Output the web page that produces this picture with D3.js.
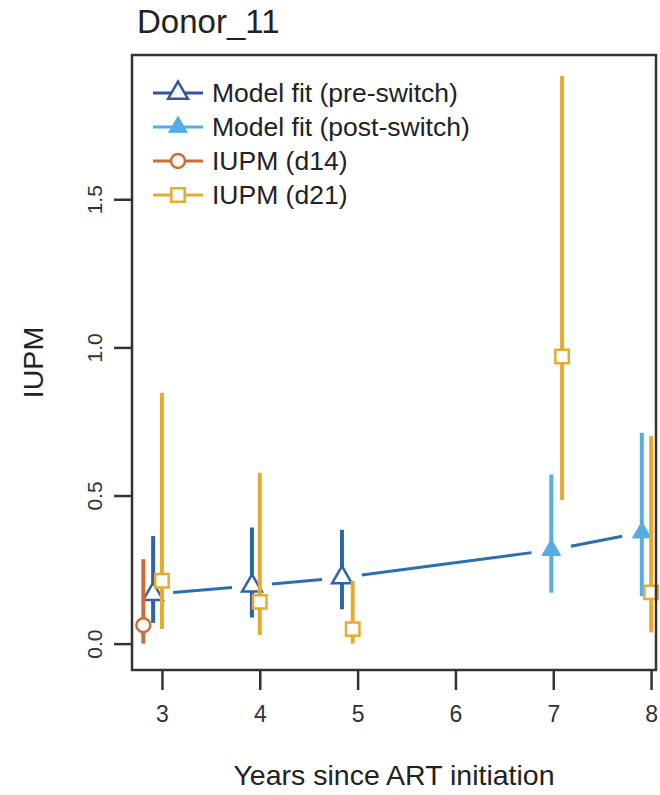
<!DOCTYPE html>
<html>
<head>
<meta charset="utf-8">
<script src="https://cdn.jsdelivr.net/npm/d3@7"></script>
<style>
  body { margin: 0; background: #fff; }
  svg { font-family: "Liberation Sans", Arial, sans-serif; }
</style>
</head>
<body>
<div id="chart"></div>
<script>
// values
var preYears = [2.91, 3.92, 4.84];
var preFit = [0.167, 0.195, 0.223];
var preLo = [0.07, 0.088, 0.116];
var preHi = [0.363, 0.392, 0.384];

var postYears = [6.98, 7.905];
var postFit = [0.316, 0.375];
var postLo = [0.172, 0.161];
var postHi = [0.571, 0.712];

var d14Years = [2.81];
var d14Iupm = [0.062];
var d14Lo = [0.0];
var d14Hi = [0.285];

var d21Years = [3.0, 4.0, 4.95, 7.09, 8.0];
var d21Iupm = [0.212, 0.141, 0.049, 0.969, 0.173];
var d21Lo = [0.049, 0.029, 0.0, 0.485, 0.038];
var d21Hi = [0.847, 0.577, 0.212, 1.916, 0.70];

var xTicks = [3, 4, 5, 6, 7, 8];
var yTicks = [0, 0.5, 1.0, 1.5];
var legendLabels = ['Model fit (pre-switch)', 'Model fit (post-switch)', 'IUPM (d14)', 'IUPM (d21)'];

var colPre = '#2d64a9', colPost = '#56ade2', colD14 = '#cc6d35', colD21 = '#e8aa2c', colLine = '#2a70b0';

var W = 660, H = 795;
var box = {left: 132, right: 656, top: 55, bottom: 670};

var svg = d3.select('#chart').append('svg')
    .attr('width', W)
    .attr('height', H);

var x = d3.scaleLinear().domain([2.694, 8.05]).range([box.left, box.right]);
var y = d3.scaleLinear().domain([-0.089, 1.987]).range([box.bottom, box.top]);

function zip(xs, ys, lo, hi) {
    return xs.map(function(d, i) { return {x: d, y: ys[i], lo: lo[i], hi: hi[i]}; });
}
var pre = zip(preYears, preFit, preLo, preHi);
var post = zip(postYears, postFit, postLo, postHi);
var d14 = zip(d14Years, d14Iupm, d14Lo, d14Hi);
var d21 = zip(d21Years, d21Iupm, d21Lo, d21Hi);

// axes
var xAxis = svg.append('g')
    .attr('transform', 'translate(0,' + box.bottom + ')')
    .call(d3.axisBottom(x).tickValues(xTicks).tickSize(20).tickPadding(16).tickFormat(d3.format('d')));
var yAxis = svg.append('g')
    .attr('transform', 'translate(' + box.left + ',0)')
    .call(d3.axisLeft(y).tickValues(yTicks).tickSize(18).tickFormat(d3.format('.1f')));

[xAxis, yAxis].forEach(function(a) {
    a.select('.domain').remove();
    a.selectAll('line').attr('stroke', '#333').attr('stroke-width', 2.5);
    a.selectAll('text').attr('fill', '#333');
});
xAxis.selectAll('text').style('font-size', '23px');
yAxis.selectAll('text')
    .style('font-size', '21px')
    .attr('x', 0)
    .attr('dy', '0.35em')
    .attr('text-anchor', 'middle')
    .attr('transform', 'translate(-37,0) rotate(-90)');

// error bars
function bars(data, color) {
    svg.append('g').selectAll('line')
        .data(data)
        .enter().append('line')
        .attr('x1', function(d) { return x(d.x); })
        .attr('x2', function(d) { return x(d.x); })
        .attr('y1', function(d) { return y(d.lo); })
        .attr('y2', function(d) { return y(d.hi); })
        .attr('stroke', color)
        .attr('stroke-width', 4);
}

// model line with gaps round the points (type = "b")
var model = pre.concat(post);
var gap = 20;
var segs = [];
for (var k = 0; k < model.length - 1; k++) {
    var ax = x(model[k].x), ay = y(model[k].y), bx = x(model[k + 1].x), by = y(model[k + 1].y);
    var len = Math.hypot(bx - ax, by - ay);
    var ux = (bx - ax) / len, uy = (by - ay) / len;
    segs.push([ax + ux * gap, ay + uy * gap, bx - ux * gap, by - uy * gap]);
}
svg.append('g').selectAll('line')
    .data(segs)
    .enter().append('line')
    .attr('x1', function(d) { return d[0]; })
    .attr('y1', function(d) { return d[1]; })
    .attr('x2', function(d) { return d[2]; })
    .attr('y2', function(d) { return d[3]; })
    .attr('stroke', colLine)
    .attr('stroke-width', 3);

var triOpen = d3.symbol().type(d3.symbolTriangle).size(170);
var triFull = d3.symbol().type(d3.symbolTriangle).size(150);
var square = d3.symbol().type(d3.symbolSquare).size(180);

function points(data, path, stroke, fill, sw) {
    svg.append('g').selectAll('path')
        .data(data)
        .enter().append('path')
        .attr('d', path)
        .attr('transform', function(d) { return 'translate(' + x(d.x) + ',' + y(d.y) + ')'; })
        .attr('fill', fill)
        .attr('stroke', stroke)
        .attr('stroke-width', sw);
}

bars(pre, colPre);
points(pre, triOpen(), colPre, '#fff', 2.5);
bars(post, colPost);
points(post, triFull(), colPost, colPost, 1);

bars(d14, colD14);
svg.append('g').selectAll('circle')
    .data(d14)
    .enter().append('circle')
    .attr('cx', function(d) { return x(d.x); })
    .attr('cy', function(d) { return y(d.y); })
    .attr('r', 7)
    .attr('fill', '#fff')
    .attr('stroke', colD14)
    .attr('stroke-width', 2.5);

bars(d21, colD21);
points(d21, square(), colD21, '#fff', 2.5);

// box
svg.append('rect')
    .attr('x', box.left)
    .attr('y', box.top)
    .attr('width', box.right - box.left)
    .attr('height', box.bottom - box.top)
    .attr('fill', 'none')
    .attr('stroke', '#333')
    .attr('stroke-width', 2.5);

// legend
var legend = svg.append('g').attr('transform', 'translate(153,93)');
var legendStyle = [
    {color: '#34569c', mark: 'triOpen'},
    {color: colPost, mark: 'triFull'},
    {color: colD14, mark: 'circle'},
    {color: colD21, mark: 'square'}
];
legendLabels.forEach(function(lab, i) {
    var row = legend.append('g').attr('transform', 'translate(0,' + (i * 34) + ')');
    var st = legendStyle[i];
    row.append('line').attr('x1', 0).attr('x2', 50).attr('y1', 0).attr('y2', 0)
        .attr('stroke', st.color).attr('stroke-width', 3);
    if (st.mark == 'circle') {
        row.append('circle').attr('cx', 25).attr('cy', 0).attr('r', 7)
            .attr('fill', '#fff').attr('stroke', st.color).attr('stroke-width', 2.5);
    } else {
        var p = st.mark == 'triOpen' ? triOpen() : st.mark == 'triFull' ? triFull() : square();
        row.append('path').attr('d', p).attr('transform', 'translate(25,0)')
            .attr('fill', st.mark == 'triFull' ? st.color : '#fff')
            .attr('stroke', st.color)
            .attr('stroke-width', st.mark == 'triFull' ? 1 : 2.5);
    }
    row.append('text').attr('x', 59).attr('y', 0).attr('dy', '0.35em')
        .attr('fill', '#222').style('font-size', '26.5px').text(lab);
});

// titles
svg.append('text').attr('x', 137).attr('y', 33).attr('fill', '#222')
    .style('font-size', '33px').text('Donor_11');
svg.append('text').attr('x', (box.left + box.right) / 2).attr('y', 785)
    .attr('text-anchor', 'middle').attr('fill', '#222')
    .style('font-size', '28.5px').text('Years since ART initiation');
svg.append('text')
    .attr('transform', 'translate(33,' + ((box.top + box.bottom) / 2) + ') rotate(-90)')
    .attr('dy', '0.35em')
    .attr('text-anchor', 'middle').attr('fill', '#222')
    .style('font-size', '28.5px').text('IUPM');
</script>
</body>
</html>
